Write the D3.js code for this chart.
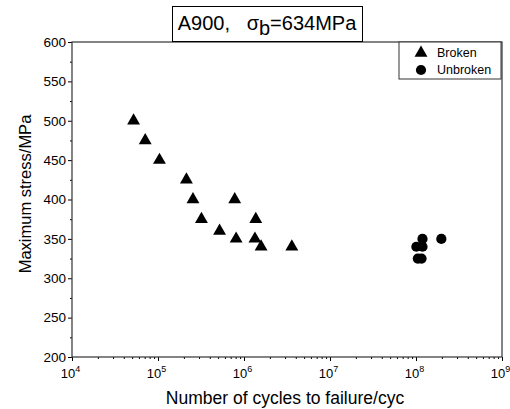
<!DOCTYPE html>
<html>
<head>
<meta charset="utf-8">
<script src="https://cdn.jsdelivr.net/npm/d3@7"></script>
<style>
  body { margin: 0; background: #fff; }
  text { font-family: "Liberation Sans", Arial, sans-serif; fill: #000; }
</style>
</head>
<body>
<div class="graph"></div>
<script>
// data
let brokenCycles = [5.2e4, 7.1e4, 1.04e5, 2.14e5, 2.55e5, 7.8e5, 3.2e5, 1.37e6, 5.2e5, 8.1e5, 1.34e6, 1.58e6, 3.6e6]
let brokenStress = [500, 475, 450, 425, 400, 400, 375, 375, 360, 350, 350, 340, 340]
let unbrokenCycles = [1.19e8, 1.97e8, 1.01e8, 1.19e8, 1.05e8, 1.16e8]
let unbrokenStress = [350, 350, 340, 340, 325, 325]
let xTickExp = [4, 5, 6, 7, 8, 9]
let yTicks = [200, 250, 300, 350, 400, 450, 500, 550, 600]
let legendLabels = ['Broken', 'Unbroken']

let svgWidth = 510
let svgHeight = 409
let margin = { left: 72, right: 8, top: 42, bottom: 52 }
let width = svgWidth - margin.left - margin.right
let height = svgHeight - margin.top - margin.bottom

let svg = d3.select('.graph')
    .append('svg')
    .attr('width', svgWidth)
    .attr('height', svgHeight)

let g = svg.append('g')
    .attr('transform', `translate(${margin.left},${margin.top})`)

let xScale = d3.scaleLog()
    .domain([1e4, 1e9])
    .range([0, width])

let yScale = d3.scaleLinear()
    .domain([200, 600])
    .range([height, 0])

// minor ticks
let xMinor = []
for (let e = 4; e < 9; e++) {
    for (let m = 2; m < 10; m++) xMinor.push(m * Math.pow(10, e))
}
let yMinor = d3.range(225, 600, 50)

g.append('g')
    .attr('transform', `translate(0,${height})`)
    .call(d3.axisBottom(xScale).tickValues(xMinor).tickSize(2).tickFormat(''))
    .call(a => a.select('.domain').remove())

g.append('g')
    .call(d3.axisLeft(yScale).tickValues(yMinor).tickSize(2).tickFormat(''))
    .call(a => a.select('.domain').remove())

// major ticks
let xAxis = g.append('g')
    .attr('transform', `translate(0,${height})`)
    .call(d3.axisBottom(xScale).tickValues(xTickExp.map(e => Math.pow(10, e))).tickSize(4).tickFormat(''))
xAxis.select('.domain').remove()

xAxis.selectAll('.tick')
    .append('text')
    .attr('y', 21)
    .attr('text-anchor', 'middle')
    .style('font-size', '13px')
    .each(function(d) {
        let t = d3.select(this)
        t.append('tspan').attr('dx', -2).text('10')
        t.append('tspan').attr('dy', -6).style('font-size', '9px').text(Math.round(Math.log10(d)))
    })

let yAxis = g.append('g')
    .call(d3.axisLeft(yScale).tickValues(yTicks).tickSize(4).tickPadding(2))
yAxis.select('.domain').remove()
yAxis.selectAll('text')
    .style('font-size', '13.5px')
    .style('font-family', '"Liberation Sans", Arial, sans-serif')

g.selectAll('.tick line').attr('stroke', '#000')

// frame
g.append('rect')
    .attr('width', width)
    .attr('height', height)
    .attr('fill', 'none')
    .attr('stroke', '#333')
    .attr('stroke-width', 1.2)

// points
let tri = d3.symbol().type(d3.symbolTriangle).size(72)
let circ = d3.symbol().type(d3.symbolCircle).size(82)

g.selectAll('.broken')
    .data(brokenCycles)
    .enter()
    .append('path')
    .attr('class', 'broken')
    .attr('d', tri)
    .attr('transform', (d, i) => `translate(${xScale(d)},${yScale(brokenStress[i])})`)
    .attr('fill', '#000')

g.selectAll('.unbroken')
    .data(unbrokenCycles)
    .enter()
    .append('path')
    .attr('class', 'unbroken')
    .attr('d', circ)
    .attr('transform', (d, i) => `translate(${xScale(d)},${yScale(unbrokenStress[i])})`)
    .attr('fill', '#000')

// legend
let legend = g.append('g')
    .attr('transform', `translate(${width - 103},0)`)
legend.append('rect')
    .attr('width', 102)
    .attr('height', 37)
    .attr('fill', '#fff')
    .attr('stroke', '#333')
legendLabels.forEach(function(lab, i) {
    legend.append('path')
        .attr('d', i == 0 ? tri : circ)
        .attr('transform', `translate(22,${11 + i * 17})`)
        .attr('fill', '#000')
    legend.append('text')
        .attr('x', 38)
        .attr('y', 15 + i * 17)
        .style('font-size', '12.5px')
        .text(lab)
})

// title box
svg.append('rect')
    .attr('x', 172.5)
    .attr('y', 6.5)
    .attr('width', 190)
    .attr('height', 35)
    .attr('fill', '#fff')
    .attr('stroke', '#000')

let title = svg.append('text')
    .attr('x', 267)
    .attr('y', 30)
    .attr('text-anchor', 'middle')
    .style('font-size', '20px')
title.append('tspan').text('A900,\u00a0\u00a0 σ')
title.append('tspan').attr('dy', 5).text('b')
title.append('tspan').attr('dy', -5).text('=634MPa')

// axis labels
svg.append('text')
    .attr('x', 285)
    .attr('y', 404)
    .attr('text-anchor', 'middle')
    .style('font-size', '17.5px')
    .text('Number of cycles to failure/cyc')

svg.append('text')
    .attr('transform', 'rotate(-90)')
    .attr('x', -194)
    .attr('y', 31)
    .attr('text-anchor', 'middle')
    .style('font-size', '16.5px')
    .text('Maximum stress/MPa')
</script>
</body>
</html>
